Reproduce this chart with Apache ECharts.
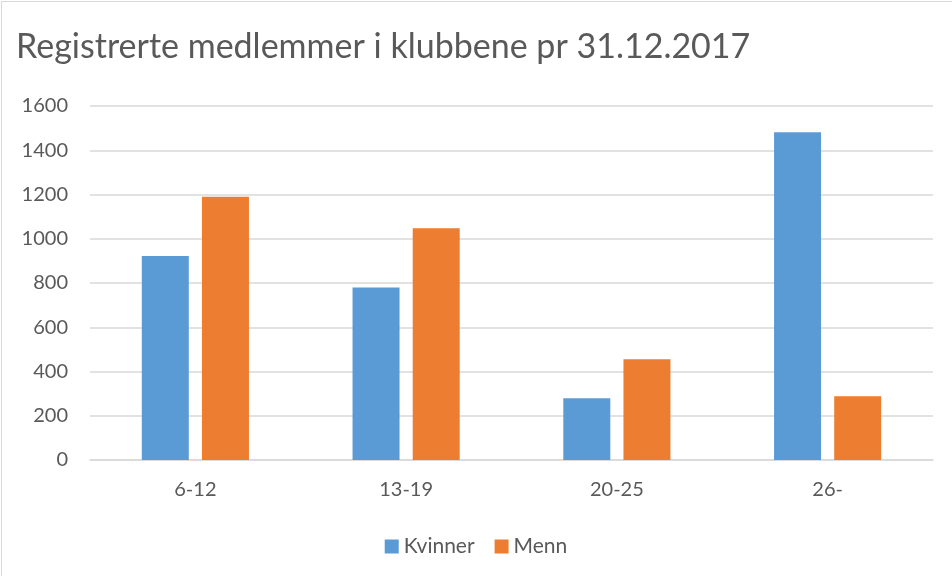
<!DOCTYPE html>
<html>
<head>
<meta charset="utf-8">
<script src="https://cdn.jsdelivr.net/npm/echarts@6/dist/echarts.min.js"></script>
<style>
  html, body { margin: 0; padding: 0; background: #fff; }
  #wrap { position: absolute; left: 1px; top: 1px; width: 960px; height: 580px; border: 1px solid #d9d9d9; }
  #chart { position: absolute; left: -2px; top: -2px; width: 952px; height: 576px; }
</style>
</head>
<body>
<div id="wrap"><div id="chart"></div></div>
<script>
// aldersgrupper
const categories = ['6-12', '13-19', '20-25', '26-'];
const kvinner = [922, 780, 279, 1481];
const menn = [1190, 1047, 455, 288];
const seriesNames = ['Kvinner', 'Menn'];

const textColor = '#595959';
const font = 'Lato, "Open Sans", sans-serif';

const myChart = echarts.init(document.getElementById('chart'));

const option = {
  animation: false,
  title: {
    text: 'Registrerte medlemmer i klubbene pr 31.12.2017',
    left: 11,
    top: 25,
    textStyle: { color: textColor, fontFamily: font, fontWeight: 'normal', fontSize: 34 }
  },
  legend: {
    data: seriesNames,
    bottom: 14,
    left: 'center',
    itemWidth: 14,
    itemHeight: 14,
    itemGap: 20,
    itemTextGap: 6,
    icon: 'rect',
    textStyle: { color: textColor, fontFamily: font, fontSize: 21 }
  },
  grid: { left: 90, right: 19, top: 106, bottom: 116 },
  xAxis: {
    type: 'category',
    data: categories,
    axisTick: { show: false },
    axisLine: { lineStyle: { color: '#d9d9d9', width: 1.5 } },
    axisLabel: { color: textColor, fontFamily: font, fontSize: 20, margin: 20 }
  },
  yAxis: {
    type: 'value',
    min: 0,
    max: 1600,
    interval: 200,
    axisLine: { show: false },
    axisTick: { show: false },
    splitLine: { lineStyle: { color: '#d9d9d9', width: 1.5 } },
    axisLabel: { color: textColor, fontFamily: font, fontSize: 20, margin: 22, formatter: (v) => String(v) }
  },
  series: [
    {
      name: seriesNames[0],
      type: 'bar',
      data: kvinner,
      barWidth: '22.3%',
      barGap: '28%',
      itemStyle: { color: '#5b9bd5' }
    },
    {
      name: seriesNames[1],
      type: 'bar',
      data: menn,
      barWidth: '22.3%',
      itemStyle: { color: '#ed7d31' }
    }
  ]
};

myChart.setOption(option);
</script>
</body>
</html>
